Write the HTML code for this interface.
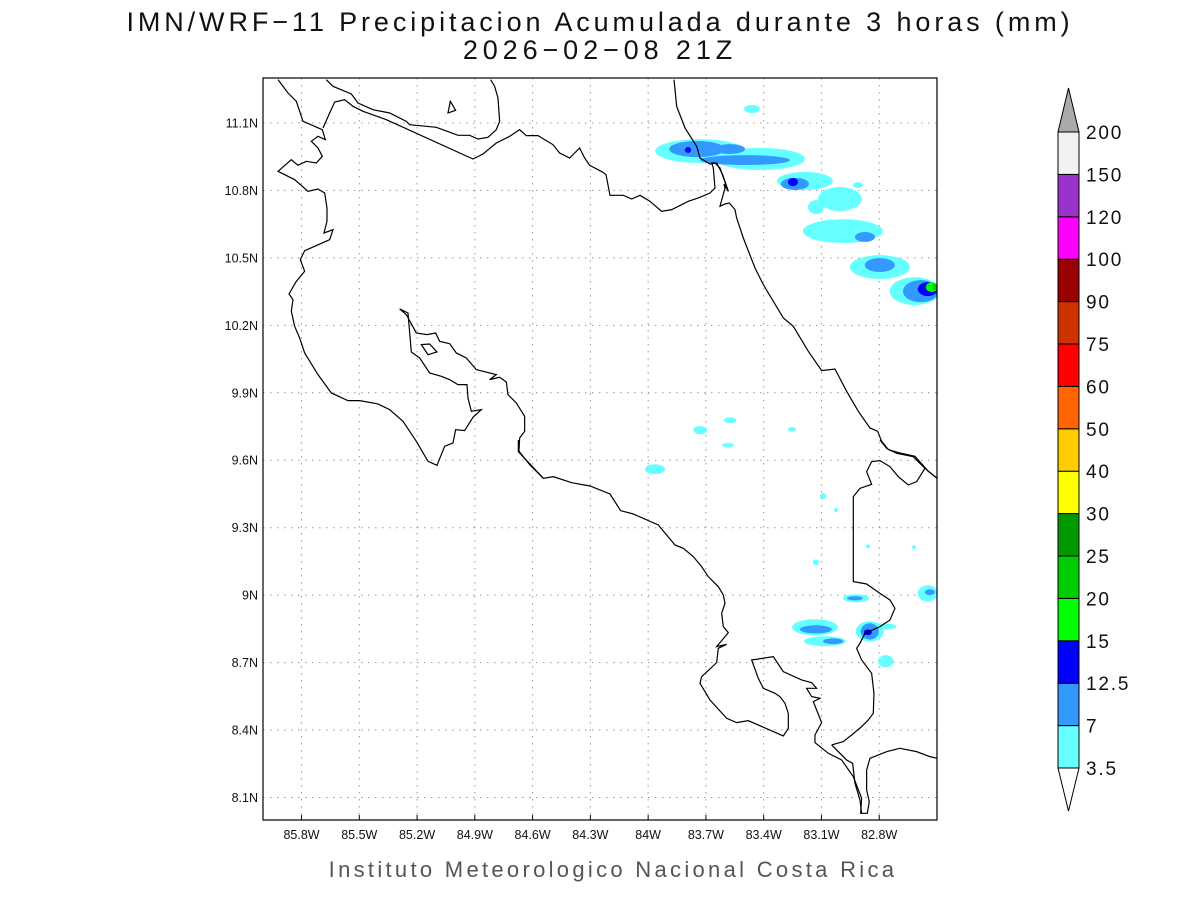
<!DOCTYPE html>
<html><head><meta charset="utf-8"><style>
body{margin:0;background:#fff;width:1200px;height:900px;overflow:hidden}
svg text{font-family:"Liberation Sans",sans-serif}
</style></head><body>
<svg id="chart" width="1200" height="900" viewBox="0 0 1200 900" xmlns="http://www.w3.org/2000/svg">
<text x="600" y="31" text-anchor="middle" font-size="27" fill="#111" letter-spacing="3.9">IMN/WRF−11 Precipitacion Acumulada durante 3 horas (mm)</text>
<text x="600" y="59" text-anchor="middle" font-size="27" fill="#111" letter-spacing="4.9">2026−02−08 21Z</text>
<defs><clipPath id="plotclip"><rect x="263" y="78" width="674" height="742"/></clipPath></defs>
<g id="grid"></g>
<g id="blobs" clip-path="url(#plotclip)"></g>
<g clip-path="url(#plotclip)" fill="none" stroke="#000" stroke-width="1.2">
 <g transform="translate(263,78) scale(0.3333)">
  <polyline vector-effect="non-scaling-stroke" points="45,5 75,45 100,70 120,130 178,155 187,185 165,175 145,190 165,210 178,235 160,255 130,250 105,262 85,245 45,280 95,305 135,340 165,333 185,345 192,390 192,430 183,465 210,455 200,485 155,505 125,518 112,545 125,580 100,610 78,648 90,665 85,700 95,745 110,780 125,825 165,890 205,945 255,968 290,968 345,978 380,995 420,1030 460,1090 495,1150 522,1162 545,1105 570,1095 578,1055 605,1058 630,1018 655,995 625,1000 615,960 612,920 585,920 560,905 535,895 500,885 470,840 445,822 435,705 410,693 430,710 460,765 492,770 518,765 530,790 560,797 580,825 610,840 640,875 700,890 680,905 710,898 730,912 735,950 760,975 785,1015 785,1060 770,1080 768,1120 800,1160 840,1200"/>
  <polyline vector-effect="non-scaling-stroke" points="190,5 210,25 265,48 285,75 330,95 380,105 430,130 440,140 520,148 585,172 620,172 645,183 675,178 700,155 710,130 705,60 695,25 683,5"/>
  <polyline vector-effect="non-scaling-stroke" points="180,150 200,105 215,72 245,65 270,85 300,100 370,125 630,243 660,228 700,195 740,175 770,155 790,173 825,173 870,200 890,225 920,240 950,210 965,240 980,262 1020,283"/>
  <polygon vector-effect="non-scaling-stroke" points="555,105 562,70 578,97"/>
  <polygon vector-effect="non-scaling-stroke" points="475,800 500,798 522,822 495,830"/>
 </g>
 <g transform="translate(600,78) scale(0.3333)">
  <polyline vector-effect="non-scaling-stroke" points="9,283 18,290 30,352 70,352 95,363 120,352 150,370 185,400 215,395 265,370 300,358 330,345 345,330 340,270 335,255 345,255 360,270 385,340 372,318 375,330 360,385 375,378 388,375 405,395 410,420 430,480 465,570 490,620 550,720 580,745 625,820 665,878 705,873 740,940 775,1000 810,1050 833,1060 845,1090 865,1115 900,1125 945,1135 985,1180 1011,1200"/>
  <polyline vector-effect="non-scaling-stroke" points="222,5 230,85 255,150 290,205 300,240 330,258 350,255 368,290 385,340"/>
 </g>
 <g transform="translate(500,440) scale(0.3333)">
  <polyline vector-effect="non-scaling-stroke" points="55,0 55,35 130,115 160,110 215,128 270,138 330,162 362,212 400,222 475,255 525,315 550,325 580,350 605,380 625,410 655,440 670,465 675,490 665,520 670,560 685,578 650,620 680,613 655,625 650,668 605,710 600,730 630,780 680,835 710,848 745,842 850,888 865,865 865,820 855,790 840,770 825,760 790,745 775,715 755,660 820,650 850,695 905,720 935,728 950,745 920,745 935,770 960,775 940,785 950,810 965,848 945,885 945,908 985,940 1025,960 1060,1010 1085,1075 1082,1120 1102,1120 1108,1085 1100,1050 1100,990 1110,955 1160,935 1200,925 1250,935 1290,950 1311,955"/>
  <polyline vector-effect="non-scaling-stroke" points="995,915 1040,960 1058,970 1065,1030 1080,1080 1085,1120"/>
  <polyline vector-effect="non-scaling-stroke" points="995,915 1030,905 1055,885 1085,860 1105,840 1120,820 1122,760 1115,700 1085,660 1070,625 1080,610 1095,580 1140,560 1170,540 1185,505 1170,480 1140,460 1100,432 1060,425 1060,170 1080,145 1115,133 1100,95 1115,65 1140,62 1170,80 1195,110 1225,135 1250,125 1275,85 1311,115"/>
  <polyline vector-effect="non-scaling-stroke" points="1140,0 1160,25 1190,40 1240,50 1275,85"/>
 </g>
</g>
<rect x="263" y="78" width="674" height="742" fill="none" stroke="#000" stroke-width="1.2"/>
<g id="axes"></g>
<g id="cbar"></g>
<text x="613" y="877" text-anchor="middle" font-size="22" fill="#555" letter-spacing="3.3">Instituto Meteorologico Nacional Costa Rica</text>
</svg>
<script>
const lonTicks=[85.8,85.5,85.2,84.9,84.6,84.3,84.0,83.7,83.4,83.1,82.8];
const latTicks=[11.1,10.8,10.5,10.2,9.9,9.6,9.3,9.0,8.7,8.4,8.1];
const levelLabels=["3.5","7","12.5","15","20","25","30","40","50","60","75","90","100","120","150","200"];
const levelColors=["#66ffff","#3399ff","#0000ff","#00ff00","#00cc00","#009900","#ffff00","#ffcc00","#ff6600","#ff0000","#cc3300","#990000","#ff00ff","#9933cc","#f2f2f2"];
// precipitation cells: centre lon (W), lat (N), half-widths in degrees, level index
const blobLon=[83.730,83.419,83.186,83.004,83.129,82.989,83.461,82.911,82.797,82.615,83.746,83.575,83.497,83.238,82.797,82.874,82.584,83.793,83.248,82.548,82.527,82.511,83.730,83.575,83.585,83.964,83.253,83.134,83.082,83.129,83.040,82.849,82.771,82.849,82.859,82.921,82.926,82.766,82.548,82.537,83.092,83.025,83.129,82.859,82.620];
const blobLat=[10.975,10.940,10.842,10.762,10.726,10.619,11.162,10.824,10.459,10.352,10.984,10.984,10.935,10.829,10.468,10.593,10.352,10.980,10.837,10.361,10.370,10.370,9.734,9.778,9.667,9.560,9.738,8.857,8.795,8.848,8.795,8.839,8.861,8.839,8.835,8.986,8.986,8.706,9.008,9.013,9.440,9.378,9.146,9.217,9.213];
const blobRx=[0.233,0.233,0.145,0.114,0.041,0.207,0.041,0.026,0.156,0.130,0.145,0.078,0.233,0.073,0.078,0.052,0.093,0.016,0.026,0.052,0.031,0.016,0.036,0.031,0.031,0.052,0.021,0.119,0.109,0.083,0.052,0.073,0.062,0.047,0.021,0.067,0.041,0.041,0.052,0.026,0.016,0.010,0.016,0.010,0.010];
const blobRy=[0.053,0.049,0.040,0.053,0.031,0.053,0.018,0.013,0.053,0.062,0.036,0.022,0.022,0.027,0.031,0.022,0.049,0.013,0.018,0.031,0.022,0.013,0.018,0.013,0.009,0.022,0.009,0.036,0.022,0.018,0.013,0.045,0.013,0.036,0.013,0.018,0.009,0.027,0.036,0.013,0.013,0.009,0.013,0.009,0.009];
const blobLev=[0,0,0,0,0,0,0,0,0,0,1,1,1,1,1,1,1,2,2,2,3,4,0,0,0,0,0,0,0,1,1,0,0,1,2,0,1,0,0,1,0,0,0,0,0];
const X0=263,X1=937,Y0=78,Y1=820,LONW=86.0,LONE=82.5,LATN=11.3,LATS=8.0;
function xs(lon){return X0+(LONW-lon)/(LONW-LONE)*(X1-X0);}
function ys(lat){return Y0+(LATN-lat)/(LATN-LATS)*(Y1-Y0);}
const NS="http://www.w3.org/2000/svg";
function mk(tag,attrs,parent){const e=document.createElementNS(NS,tag);for(const k in attrs)e.setAttribute(k,attrs[k]);parent.appendChild(e);return e;}
const grid=document.getElementById('grid'),axes=document.getElementById('axes');
lonTicks.forEach(v=>{const x=xs(v);
 const l=mk('line',{x1:x,x2:x,y1:Y0,y2:Y1,stroke:'#999','stroke-dasharray':'1.5,5.5'},grid);
 
 
 const t=mk('text',{x:x,y:839,'text-anchor':'middle','font-size':'12.5',fill:'#111'},axes);
 t.textContent=(Math.round(v*10)/10)+'W';
 
 
 const k=mk('line',{x1:x,x2:x,y1:Y1,y2:Y1-5,stroke:'#000'},axes);
 
 
});
latTicks.forEach(v=>{const y=ys(v);
 const l=mk('line',{x1:X0,x2:X1,y1:y,y2:y,stroke:'#999','stroke-dasharray':'1.5,5.5'},grid);
 
 
 const t=mk('text',{x:258,y:y+4.5,'text-anchor':'end','font-size':'12.5',fill:'#111'},axes);
 t.textContent=(Math.round(v*10)/10)+'N';
 
 
});
const blobs=document.getElementById('blobs');
const order=blobLev.map((l,i)=>i).sort((a,b)=>blobLev[a]-blobLev[b]);
order.forEach(i=>{const cx=xs(blobLon[i]),cy=ys(blobLat[i]);
 const e=mk('ellipse',{cx:cx,cy:cy,rx:Math.max(1.5,xs(blobLon[i]-blobRx[i])-cx),ry:Math.max(1.5,ys(blobLat[i]-blobRy[i])-cy),fill:levelColors[blobLev[i]]},blobs);
 
 
});
const cb=document.getElementById('cbar');
const CBX=1058,CBW=21,CBT=132,CBH=42.4;
const n=levelColors.length;
for(let i=0;i<n;i++){const y=CBT+(n-1-i)*CBH;
 const r=mk('rect',{x:CBX,y:y,width:CBW,height:CBH,fill:levelColors[i],stroke:'#000','stroke-width':1},cb);
 
 
}
const up=mk('polygon',{points:`${CBX},${CBT} ${CBX+CBW},${CBT} ${CBX+CBW/2},${CBT-44}`,fill:'#aaa',stroke:'#000'},cb);


const yb=CBT+n*CBH;
const dn=mk('polygon',{points:`${CBX},${yb} ${CBX+CBW},${yb} ${CBX+CBW/2},${yb+43}`,fill:'#fff',stroke:'#000'},cb);


levelLabels.forEach((s,i)=>{const y=CBT+(n-i)*CBH;
 const t=mk('text',{x:1086,y:y+7,'font-size':'19',fill:'#111','letter-spacing':'1.8'},cb);
 t.textContent=s;
 
 
});
</script>
</body></html>
